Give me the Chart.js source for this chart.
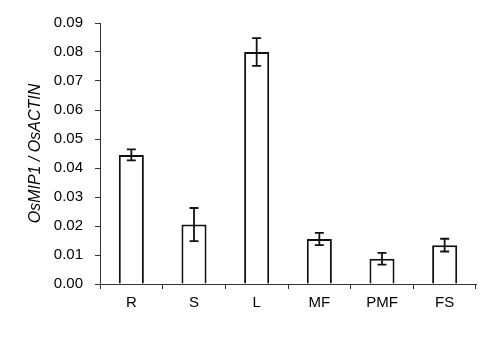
<!DOCTYPE html>
<html>
<head>
<meta charset="utf-8">
<script src="https://cdn.jsdelivr.net/npm/chart.js@4"></script>
<style>
  html, body { margin: 0; padding: 0; background: #fff; }
  #wrap { width: 485px; height: 338px; }
</style>
</head>
<body>
<div id="wrap"><canvas id="chart" width="485" height="338"></canvas></div>
<script>
const categories = ["R", "S", "L", "MF", "PMF", "FS"];
const values = [0.0445, 0.0205, 0.0800, 0.0155, 0.0087, 0.0134];
const errors = [0.0019, 0.0057, 0.0048, 0.0021, 0.0020, 0.0022];
const yTicks = [0, 0.01, 0.02, 0.03, 0.04, 0.05, 0.06, 0.07, 0.08, 0.09];

const font = { family: "'Liberation Sans', Arial, sans-serif", size: 15 };

// draws the error bars from the y scale
const errorBars = {
  id: "errorBars",
  afterDatasetsDraw(chart) {
    const ctx = chart.ctx;
    const meta = chart.getDatasetMeta(0);
    const y = chart.scales.y;
    ctx.save();
    ctx.strokeStyle = "#111";
    ctx.lineWidth = 1.8;
    meta.data.forEach((bar, i) => {
      const top = y.getPixelForValue(values[i] + errors[i]);
      const bot = y.getPixelForValue(values[i] - errors[i]);
      const x = bar.x;
      ctx.beginPath();
      ctx.moveTo(x, top); ctx.lineTo(x, bot);
      ctx.moveTo(x - 4.5, top); ctx.lineTo(x + 4.5, top);
      ctx.moveTo(x - 4.5, bot); ctx.lineTo(x + 4.5, bot);
      ctx.stroke();
    });
    ctx.restore();
  }
};

new Chart(document.getElementById("chart"), {
  type: "bar",
  data: {
    labels: categories,
    datasets: [{
      data: values,
      backgroundColor: "#fff",
      borderColor: "#111",
      borderWidth: 2,
      categoryPercentage: 1,
      barPercentage: 0.4
    }]
  },
  options: {
    responsive: false,
    animation: false,
    layout: { padding: { top: 23, right: 9, left: 0, bottom: 0 } },
    plugins: { legend: { display: false }, tooltip: { enabled: false } },
    scales: {
      x: {
        offset: true,
        grid: { offset: true, drawOnChartArea: false, color: "#333", tickLength: 5 },
        border: { color: "#333", width: 1 },
        ticks: { color: "#000", font: font, padding: 5 },
        afterFit(scale) { scale.height = 54; }
      },
      y: {
        min: 0,
        max: 0.09,
        afterBuildTicks(scale) { scale.ticks = yTicks.map(v => ({ value: v })); },
        grid: { drawOnChartArea: false, color: "#333", tickLength: 5 },
        border: { color: "#333", width: 1 },
        ticks: { color: "#000", font: font, padding: 12, callback: v => v.toFixed(2) },
        title: {
          display: true,
          text: "OsMIP1 / OsACTIN",
          color: "#000",
          font: { family: font.family, size: 16, style: "italic" },
          padding: { top: 26, bottom: 0 }
        },
        afterFit(scale) { scale.width = 100; }
      }
    }
  },
  plugins: [errorBars]
});
</script>
</body>
</html>
